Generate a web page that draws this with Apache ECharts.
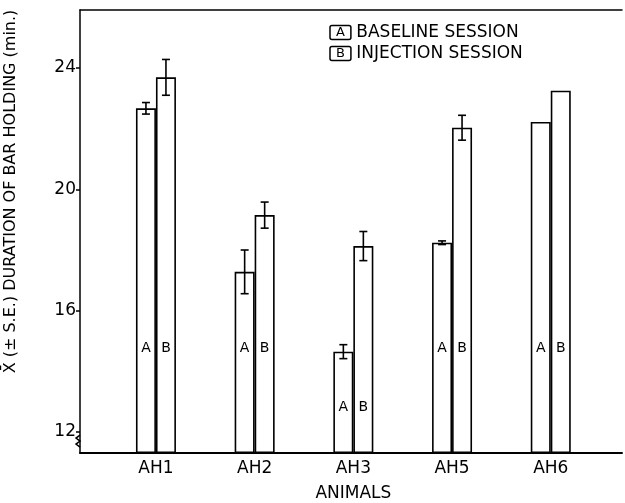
<!DOCTYPE html>
<html>
<head>
<meta charset="utf-8">
<script src="https://cdn.jsdelivr.net/npm/echarts@6/dist/echarts.min.js"></script>
<style>html,body{margin:0;padding:0;background:#fff}#chart{width:625px;height:503px}</style>
</head>
<body>
<div id="chart"></div>
<script>
const categories = ['AH1', 'AH2', 'AH3', 'AH5', 'AH6'];
const baseline = [22.67, 17.28, 14.65, 18.24, 22.22];
const injection = [23.69, 19.15, 18.13, 22.03, 23.25];
const baselineSE = [0.19, 0.72, 0.23, 0.06, null];
const injectionSE = [0.59, 0.43, 0.48, 0.41, null];
const yTicks = [12, 16, 20, 24];
const seriesNames = ['BASELINE SESSION', 'INJECTION SESSION'];
const seriesLetters = ['A', 'B'];

const FONT = 'DejaVu Sans';
const BAR_W = 20;
const Y_MIN = 11.31, Y_MAX = 25.91;

const chart = echarts.init(document.getElementById('chart'), null, {renderer: 'canvas'});

function barData(values, other) {
  return values.map((v, i) => {
    const low = Math.min(v, other[i]) < 15.5;
    return {value: v, label: {distance: low ? 39 : 98}};
  });
}

function errData(values, se) {
  return values.map((v, i) => [i, v, se[i] == null ? 0 : se[i]]);
}

function errRender(offset) {
  return function (params, api) {
    const se = api.value(2);
    if (!se) return null;
    const c = api.value(0), v = api.value(1);
    const top = api.coord([c, v + se]);
    const bot = api.coord([c, v - se]);
    const x = top[0] + offset;
    const cap = 4;
    const st = {stroke: '#000', lineWidth: 1.6};
    return {
      type: 'group',
      children: [
        {type: 'line', shape: {x1: x, y1: top[1], x2: x, y2: bot[1]}, style: st},
        {type: 'line', shape: {x1: x - cap, y1: top[1], x2: x + cap, y2: top[1]}, style: st},
        {type: 'line', shape: {x1: x - cap, y1: bot[1], x2: x + cap, y2: bot[1]}, style: st}
      ]
    };
  };
}

const option = {
  backgroundColor: '#fff',
  animation: false,
  textStyle: {fontFamily: FONT, color: '#000'},
  grid: [
    {left: 80, right: 3, top: 10, bottom: 50, containLabel: false, outerBoundsMode: 'none'},
    {left: 106.6, width: 493.5, top: 10, bottom: 50, containLabel: false, outerBoundsMode: 'none'}
  ],
  legend: {
    orient: 'vertical',
    left: 320,
    top: 19,
    icon: 'none',
    itemWidth: 0,
    itemHeight: 10,
    itemGap: 4,
    selectedMode: false,
    data: seriesNames,
    formatter: name => '{box|' + seriesLetters[seriesNames.indexOf(name)] + '} ' + name,
    textStyle: {
      fontFamily: FONT, fontSize: 17, color: '#000',
      rich: {
        box: {fontFamily: FONT, fontSize: 13, color: '#000', borderColor: '#000', borderWidth: 1.5,
              borderRadius: 2, padding: [1, 6, 0, 6]}
      }
    }
  },
  xAxis: [
    {type: 'value', gridIndex: 0, min: 0, max: 1, position: 'bottom',
     axisLine: {show: true, lineStyle: {color: '#000', width: 2}},
     axisTick: {show: false}, axisLabel: {show: false}, splitLine: {show: false}},
    {type: 'value', gridIndex: 0, min: 0, max: 1, position: 'top',
     axisLine: {show: true, lineStyle: {color: '#000', width: 1.5}},
     axisTick: {show: false}, axisLabel: {show: false}, splitLine: {show: false}},
    {type: 'category', gridIndex: 1, data: categories, position: 'bottom',
     axisLine: {show: false}, axisTick: {show: false}, splitLine: {show: false},
     axisLabel: {fontFamily: FONT, fontSize: 17, color: '#000', margin: 7},
     name: 'ANIMALS', nameLocation: 'middle', nameGap: 32,
     nameTextStyle: {fontFamily: FONT, fontSize: 17, color: '#000'}}
  ],
  yAxis: [
    {type: 'value', gridIndex: 0, min: Y_MIN, max: Y_MAX, startValue: Y_MIN,
     axisLine: {show: true, lineStyle: {color: '#000', width: 1.5}},
     axisTick: {show: true, length: 4, customValues: yTicks, lineStyle: {color: '#000', width: 1.5}},
     axisLabel: {customValues: yTicks, fontFamily: FONT, fontSize: 17, color: '#000', margin: 4},
     splitLine: {show: false},
     name: 'X\u0304 (\u00b1 S.E.) DURATION OF BAR HOLDING (min.)',
     nameLocation: 'middle', nameGap: 61, nameRotate: 90,
     nameTextStyle: {fontFamily: FONT, fontSize: 16, color: '#000', padding: [0, 0, 0, 80]}},
    {type: 'value', gridIndex: 1, min: Y_MIN, max: Y_MAX, startValue: Y_MIN, show: false}
  ],
  series: [
    {name: seriesNames[0], type: 'bar', xAxisIndex: 2, yAxisIndex: 1, barWidth: BAR_W, barGap: '0%', clip: true,
     data: barData(baseline, injection),
     itemStyle: {color: '#fff', borderColor: '#000', borderWidth: 1.6},
     label: {show: true, position: 'insideBottom', formatter: seriesLetters[0],
             fontFamily: FONT, fontSize: 14, color: '#000'}},
    {name: seriesNames[1], type: 'bar', xAxisIndex: 2, yAxisIndex: 1, barWidth: BAR_W, barGap: '0%', clip: true,
     data: barData(injection, baseline),
     itemStyle: {color: '#fff', borderColor: '#000', borderWidth: 1.6},
     label: {show: true, position: 'insideBottom', formatter: seriesLetters[1],
             fontFamily: FONT, fontSize: 14, color: '#000'}},
    {type: 'custom', xAxisIndex: 2, yAxisIndex: 1, renderItem: errRender(-BAR_W / 2),
     data: errData(baseline, baselineSE), z: 5},
    {type: 'custom', xAxisIndex: 2, yAxisIndex: 1, renderItem: errRender(BAR_W / 2),
     data: errData(injection, injectionSE), z: 5}
  ]
};
chart.setOption(option);

// small axis-break mark just below the lowest tick
const p = chart.convertToPixel({yAxisIndex: 0}, yTicks[0]);
const ax = chart.convertToPixel({xAxisIndex: 0}, 0);
chart.setOption({
  graphic: [{
    type: 'polyline', silent: true, z: 10,
    shape: {points: [[ax, p + 3], [ax - 4, p + 6], [ax, p + 9], [ax - 4, p + 12], [ax, p + 15]]},
    style: {stroke: '#000', lineWidth: 1.5, fill: null}
  }]
});
</script>
</body>
</html>
